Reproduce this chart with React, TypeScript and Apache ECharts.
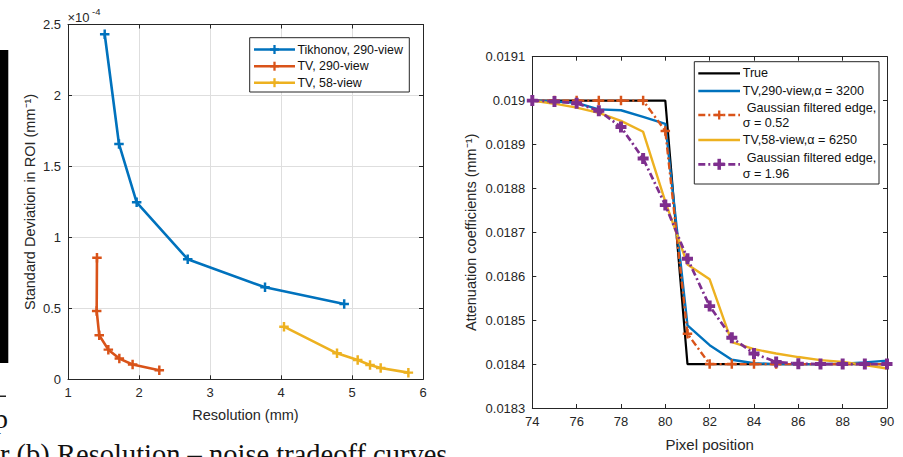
import React, { useEffect, useRef } from "react";
import * as echarts from "echarts";

// ---------- Left plot: resolution vs. noise (std in units of 1e-4 mm^-1) ----------
const tikhonovRes = [1.517, 1.718, 1.967, 2.686, 3.775, 4.89];
const tikhonovStd = [2.431, 1.658, 1.247, 0.846, 0.648, 0.531];
const tv290Res = [1.408, 1.404, 1.44, 1.568, 1.723, 1.91, 2.286];
const tv290Std = [0.856, 0.482, 0.31, 0.209, 0.146, 0.104, 0.064];
const tv58Res = [4.042, 4.789, 5.08, 5.254, 5.404, 5.794];
const tv58Std = [0.371, 0.183, 0.136, 0.101, 0.079, 0.047];

// ---------- Right plot: edge profiles ----------
const pixelPos = [74, 75, 76, 77, 78, 79, 80, 81, 82, 83, 84, 85, 86, 87, 88, 89, 90];
const trueEdge = [0.019, 0.019, 0.019, 0.019, 0.019, 0.019, 0.019, 0.0184, 0.0184, 0.0184, 0.0184, 0.0184, 0.0184, 0.0184, 0.0184, 0.0184, 0.0184];
const tv290Edge = [0.019, 0.018998, 0.018995, 0.01898, 0.018978, 0.018963, 0.018947, 0.018488, 0.018443, 0.01841, 0.018402, 0.0184, 0.0184, 0.0184, 0.018401, 0.018404, 0.018408];
const gauss052Edge = [0.019, 0.019, 0.019, 0.019, 0.019, 0.019, 0.018931, 0.018469, 0.0184, 0.0184, 0.0184, 0.0184, 0.0184, 0.0184, 0.0184, 0.0184, 0.0184];
const tv58Edge = [0.019, 0.018993, 0.018984, 0.018972, 0.018954, 0.018929, 0.01877, 0.018627, 0.018593, 0.01845, 0.018434, 0.018424, 0.018416, 0.018409, 0.018405, 0.018398, 0.01839];
const gauss196Edge = [0.019, 0.018998, 0.018994, 0.018977, 0.01894, 0.018868, 0.018762, 0.01864, 0.018532, 0.01846, 0.018424, 0.018405, 0.018401, 0.0184, 0.0184, 0.0184, 0.0184];

const leftLegend = ["Tikhonov, 290-view", "TV, 290-view", "TV, 58-view"];

const BLUE = "#0072BD";
const RED = "#D95319";
const YEL = "#EDB120";
const PUR = "#7E2F8E";
const AX = "#262626";
const FONT = '"Liberation Sans", Arial, Helvetica, sans-serif';
const DASHDOT = [7, 3, 2, 3];
const PLUS = "path://M3.7,0H6.3V3.7H10V6.3H6.3V10H3.7V6.3H0V3.7H3.7Z";
const BOLDPLUS = "path://M3.2,0H6.8V3.2H10V6.8H6.8V10H3.2V6.8H0V3.2H3.2Z";

const zip = (xs: number[], ys: number[]) => xs.map((x, i) => [x, ys[i]]);

function plusG(cx: number, cy: number, size: number, thick: number, color: string) {
  return [
    { type: "rect", z: 101, shape: { x: cx - size / 2, y: cy - thick / 2, width: size, height: thick }, style: { fill: color } },
    { type: "rect", z: 101, shape: { x: cx - thick / 2, y: cy - size / 2, width: thick, height: size }, style: { fill: color } },
  ];
}
function lineG(x1: number, x2: number, y: number, color: string, w: number, dash?: number[]) {
  return { type: "line", z: 100, shape: { x1, y1: y, x2, y2: y }, style: { stroke: color, lineWidth: w, lineDash: dash || null } };
}
function textG(x: number, y: number, text: string, size: number, extra: any = {}) {
  return {
    type: "text",
    z: 101,
    x,
    y,
    style: {
      text,
      fill: "#111",
      fontSize: size,
      fontFamily: FONT,
      textAlign: "left",
      align: "left",
      textVerticalAlign: "middle",
      verticalAlign: "middle",
      ...extra,
    },
  };
}

function valueAxis(grid: number, min: number, max: number, interval: number, pos: string, main: boolean, opts: any = {}) {
  return {
    type: "value",
    gridIndex: grid,
    min,
    max,
    interval,
    position: pos,
    axisLine: { show: true, onZero: false, lineStyle: { color: AX, width: 1 } },
    axisTick: { show: true, inside: true, length: 4, lineStyle: { color: AX, width: 1 } },
    axisLabel: { show: main, color: AX, fontSize: 13, fontFamily: FONT, margin: 7 },
    splitLine: { show: false },
    ...opts,
  };
}

export default function App() {
  const ref = useRef<HTMLDivElement>(null);
  useEffect(() => {
    if (!ref.current) return;
    const chart = echarts.init(ref.current, null, { renderer: "svg" });
    const fmt4 = (v: number) => String(parseFloat(v.toFixed(4)));
    const grid = { show: false };
    const option: any = {
      animation: false,
      textStyle: { fontFamily: FONT },
      grid: [
        { ...grid, left: 68, top: 24.5, width: 355, height: 354.8 },
        { ...grid, left: 532.3, top: 56.7, width: 354.7, height: 355 },
      ],
      xAxis: [
        valueAxis(0, 1, 6, 1, "bottom", true, {
          splitLine: { show: true, lineStyle: { color: "#dedede", width: 1 } },
          name: "Resolution (mm)",
          nameLocation: "middle",
          nameGap: 28,
          nameTextStyle: { color: AX, fontSize: 14.5, fontFamily: FONT },
        }),
        valueAxis(0, 1, 6, 1, "top", false),
        valueAxis(1, 74, 90, 2, "bottom", true, {
          name: "Pixel position",
          nameLocation: "middle",
          nameGap: 29,
          nameTextStyle: { color: AX, fontSize: 15, fontFamily: FONT },
        }),
        valueAxis(1, 74, 90, 2, "top", false),
      ],
      yAxis: [
        valueAxis(0, 0, 2.5, 0.5, "left", true, {
          splitLine: { show: true, lineStyle: { color: "#dedede", width: 1 } },
          name: "Standard Deviation in ROI (mm⁻¹)",
          nameLocation: "middle",
          nameGap: 31,
          nameTextStyle: { color: AX, fontSize: 14.5, fontFamily: FONT },
        }),
        valueAxis(0, 0, 2.5, 0.5, "right", false),
        valueAxis(1, 0.0183, 0.0191, 0.0001, "left", true, {
          axisLabel: { show: true, color: AX, fontSize: 13, fontFamily: FONT, margin: 7, formatter: fmt4 },
          name: "Attenuation coefficients (mm⁻¹)",
          nameLocation: "middle",
          nameGap: 54,
          nameTextStyle: { color: AX, fontSize: 14.5, fontFamily: FONT },
        }),
        valueAxis(1, 0.0183, 0.0191, 0.0001, "right", false),
      ],
      series: [
        {
          name: leftLegend[0], type: "line", xAxisIndex: 0, yAxisIndex: 0,
          data: zip(tikhonovRes, tikhonovStd), symbol: PLUS, symbolSize: 9.5, showAllSymbol: true,
          lineStyle: { color: BLUE, width: 2.6 }, itemStyle: { color: BLUE }, z: 3,
        },
        {
          name: leftLegend[1], type: "line", xAxisIndex: 0, yAxisIndex: 0,
          data: zip(tv290Res, tv290Std), symbol: PLUS, symbolSize: 9.5, showAllSymbol: true,
          lineStyle: { color: RED, width: 2.6 }, itemStyle: { color: RED }, z: 3,
        },
        {
          name: leftLegend[2], type: "line", xAxisIndex: 0, yAxisIndex: 0,
          data: zip(tv58Res, tv58Std), symbol: PLUS, symbolSize: 9.5, showAllSymbol: true,
          lineStyle: { color: YEL, width: 2.6 }, itemStyle: { color: YEL }, z: 3,
        },
        {
          name: "True", type: "line", xAxisIndex: 2, yAxisIndex: 2,
          data: zip(pixelPos, trueEdge), symbol: "none",
          lineStyle: { color: "#000", width: 2.2 }, z: 3,
        },
        {
          name: "TV,290-view", type: "line", xAxisIndex: 2, yAxisIndex: 2,
          data: zip(pixelPos, tv290Edge), symbol: "none",
          lineStyle: { color: BLUE, width: 2.4 }, z: 4,
        },
        {
          name: "Gaussian 0.52", type: "line", xAxisIndex: 2, yAxisIndex: 2,
          data: zip(pixelPos, gauss052Edge), symbol: PLUS, symbolSize: 9.5, showAllSymbol: true,
          lineStyle: { color: RED, width: 2.4, type: DASHDOT }, itemStyle: { color: RED }, z: 5,
        },
        {
          name: "TV,58-view", type: "line", xAxisIndex: 2, yAxisIndex: 2,
          data: zip(pixelPos, tv58Edge), symbol: "none",
          lineStyle: { color: YEL, width: 2.4 }, z: 6,
        },
        {
          name: "Gaussian 1.96", type: "line", xAxisIndex: 2, yAxisIndex: 2,
          data: zip(pixelPos, gauss196Edge), symbol: BOLDPLUS, symbolSize: 11, showAllSymbol: true,
          lineStyle: { color: PUR, width: 2.7, type: DASHDOT }, itemStyle: { color: PUR }, z: 7,
        },
      ],
      graphic: {
        elements: [
          // exponent for left y axis
          textG(67.5, 17.5, "×10", 13, { fill: AX }),
          textG(92, 11.5, "-4", 9.5, { fill: AX }),
          // left legend
          { type: "rect", z: 99, shape: { x: 249.7, y: 37.7, width: 159.6, height: 54.3 }, style: { fill: "#fff", stroke: AX, lineWidth: 1 } },
          lineG(254, 295, 49.5, BLUE, 2.6),
          ...plusG(274.5, 49.5, 9, 2.3, BLUE),
          textG(297.5, 49.5, leftLegend[0], 12.4),
          lineG(254, 295, 66.2, RED, 2.6),
          ...plusG(274.5, 66.2, 9, 2.3, RED),
          textG(297.5, 66.2, leftLegend[1], 12.4),
          lineG(254, 295, 82.7, YEL, 2.6),
          ...plusG(274.5, 82.7, 9, 2.3, YEL),
          textG(297.5, 82.7, leftLegend[2], 12.4),
          // right legend
          { type: "rect", z: 99, shape: { x: 694.3, y: 61.7, width: 184.7, height: 122.3 }, style: { fill: "#fff", stroke: AX, lineWidth: 1 } },
          lineG(698.3, 740, 73.3, "#000", 2.2),
          textG(742.7, 73.3, "True", 12.6),
          lineG(698.3, 740, 91, BLUE, 2.4),
          textG(742.7, 91, "TV,290-view,α = 3200", 12.6),
          lineG(698.3, 740, 115, RED, 2.4, DASHDOT),
          ...plusG(719.2, 115, 9, 2.3, RED),
          textG(746.7, 107.7, "Gaussian filtered edge,", 12.6),
          textG(742.7, 123.3, "σ = 0.52", 12.6),
          lineG(698.3, 740, 140, YEL, 2.4),
          textG(742.7, 140, "TV,58-view,α = 6250", 12.6),
          lineG(698.3, 740, 164.3, PUR, 2.7, DASHDOT),
          ...plusG(719.2, 164.3, 11, 3.5, PUR),
          textG(746.7, 158.3, "Gaussian filtered edge,", 12.6),
          textG(742.7, 174.3, "σ = 1.96", 12.6),
          // fragments of the surrounding page
          { type: "rect", z: 50, shape: { x: 0, y: 50, width: 8.3, height: 313 }, style: { fill: "#000" } },
          { type: "rect", z: 50, shape: { x: 0, y: 395.5, width: 6, height: 1.5 }, style: { fill: "#222" } },
          textG(-6, 418, "p", 28, { fontFamily: '"Liberation Serif", "Times New Roman", serif', fill: "#111" }),
          textG(0, 440, "r (b) Resolution – noise tradeoff curves", 28.5, {
            fontFamily: '"Liberation Serif", "Times New Roman", serif',
            fill: "#111",
            textVerticalAlign: "top",
            verticalAlign: "top",
          }),
        ],
      },
    };
    chart.setOption(option);
    return () => chart.dispose();
  }, []);
  return <div ref={ref} style={{ position: "absolute", left: 0, top: 0, width: 903, height: 457 }} />;
}
